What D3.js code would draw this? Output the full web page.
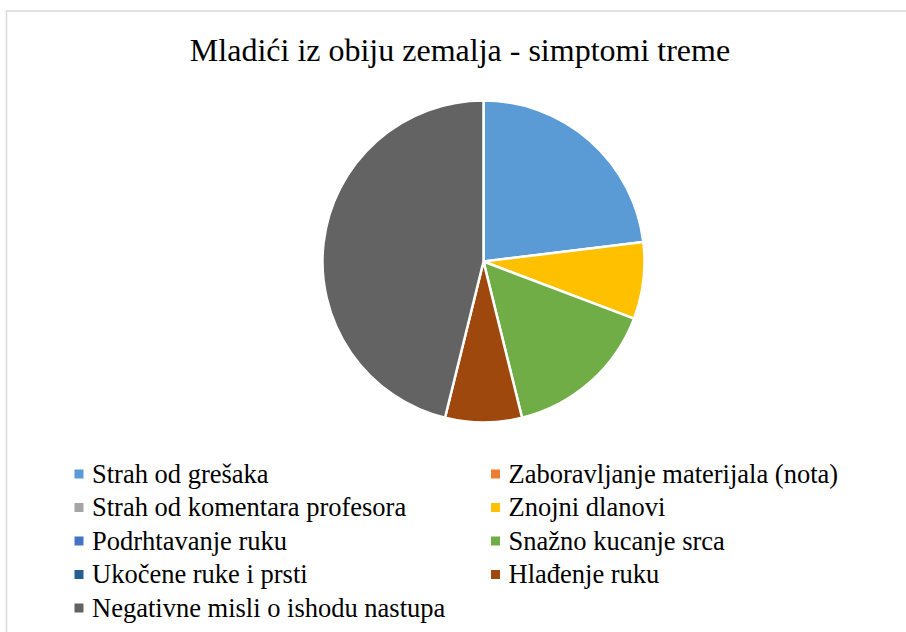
<!DOCTYPE html>
<html>
<head>
<meta charset="utf-8">
<script src="https://cdn.jsdelivr.net/npm/d3@7"></script>
<style>
  body { margin: 0; background: #fff; }
</style>
</head>
<body>
<svg width="906" height="632"></svg>
<script>
var title = "Mladići iz obiju zemalja - simptomi treme";

var categories = [
  "Strah od grešaka",
  "Zaboravljanje materijala (nota)",
  "Strah od komentara profesora",
  "Znojni dlanovi",
  "Podrhtavanje ruku",
  "Snažno kucanje srca",
  "Ukočene ruke i prsti",
  "Hlađenje ruku",
  "Negativne misli o ishodu nastupa"
];
var values = [3, 0, 0, 1, 0, 2, 0, 1, 6];
var colors = ["#5B9BD5", "#ED7D31", "#A5A5A5", "#FFC000", "#4472C4",
              "#70AD47", "#255E91", "#9E480E", "#636363"];

var serif = "'Liberation Serif', 'DejaVu Serif', serif";

var svg = d3.select("svg"),
    width = +svg.attr("width"),
    height = +svg.attr("height");

// chart frame (only top and left edges are inside the window)
svg.append("rect")
    .attr("x", 6.5).attr("y", 11)
    .attr("width", 920).attr("height", 640)
    .attr("fill", "#fff")
    .attr("stroke", "#D9D9D9")
    .attr("stroke-width", 1.5);

svg.append("text")
    .attr("x", 460).attr("y", 61)
    .attr("text-anchor", "middle")
    .attr("font-family", serif)
    .attr("font-size", 32)
    .text(title);

var color = d3.scaleOrdinal().domain(categories).range(colors);

var pie = d3.pie().sort(null).value(function(d) { return d.value; });
var arc = d3.arc().innerRadius(0).outerRadius(161);

var data = categories.map(function(c, i) { return {name: c, value: values[i]}; });

svg.append("g")
    .attr("transform", "translate(483.5,261.5)")
  .selectAll("path")
  .data(pie(data).filter(function(d) { return d.data.value > 0; }))
  .enter().append("path")
    .attr("d", arc)
    .attr("fill", function(d) { return color(d.data.name); })
    .attr("stroke", "#fff")
    .attr("stroke-width", 2.5)
    .attr("stroke-linejoin", "round");

// legend, two columns
var legend = svg.append("g").selectAll("g")
  .data(categories)
  .enter().append("g")
    .attr("transform", function(d, i) {
      var col = i % 2, row = Math.floor(i / 2);
      return "translate(" + (col ? 491 : 74.5) + "," + (474 + row * 33.5) + ")";
    });

legend.append("rect")
    .attr("x", 0).attr("y", -4.5)
    .attr("width", 9).attr("height", 9)
    .attr("fill", function(d) { return color(d); });

legend.append("text")
    .attr("x", 17.5).attr("y", 8.5)
    .attr("font-family", serif)
    .attr("font-size", 26.5)
    .text(function(d) { return d; });
</script>
</body>
</html>
